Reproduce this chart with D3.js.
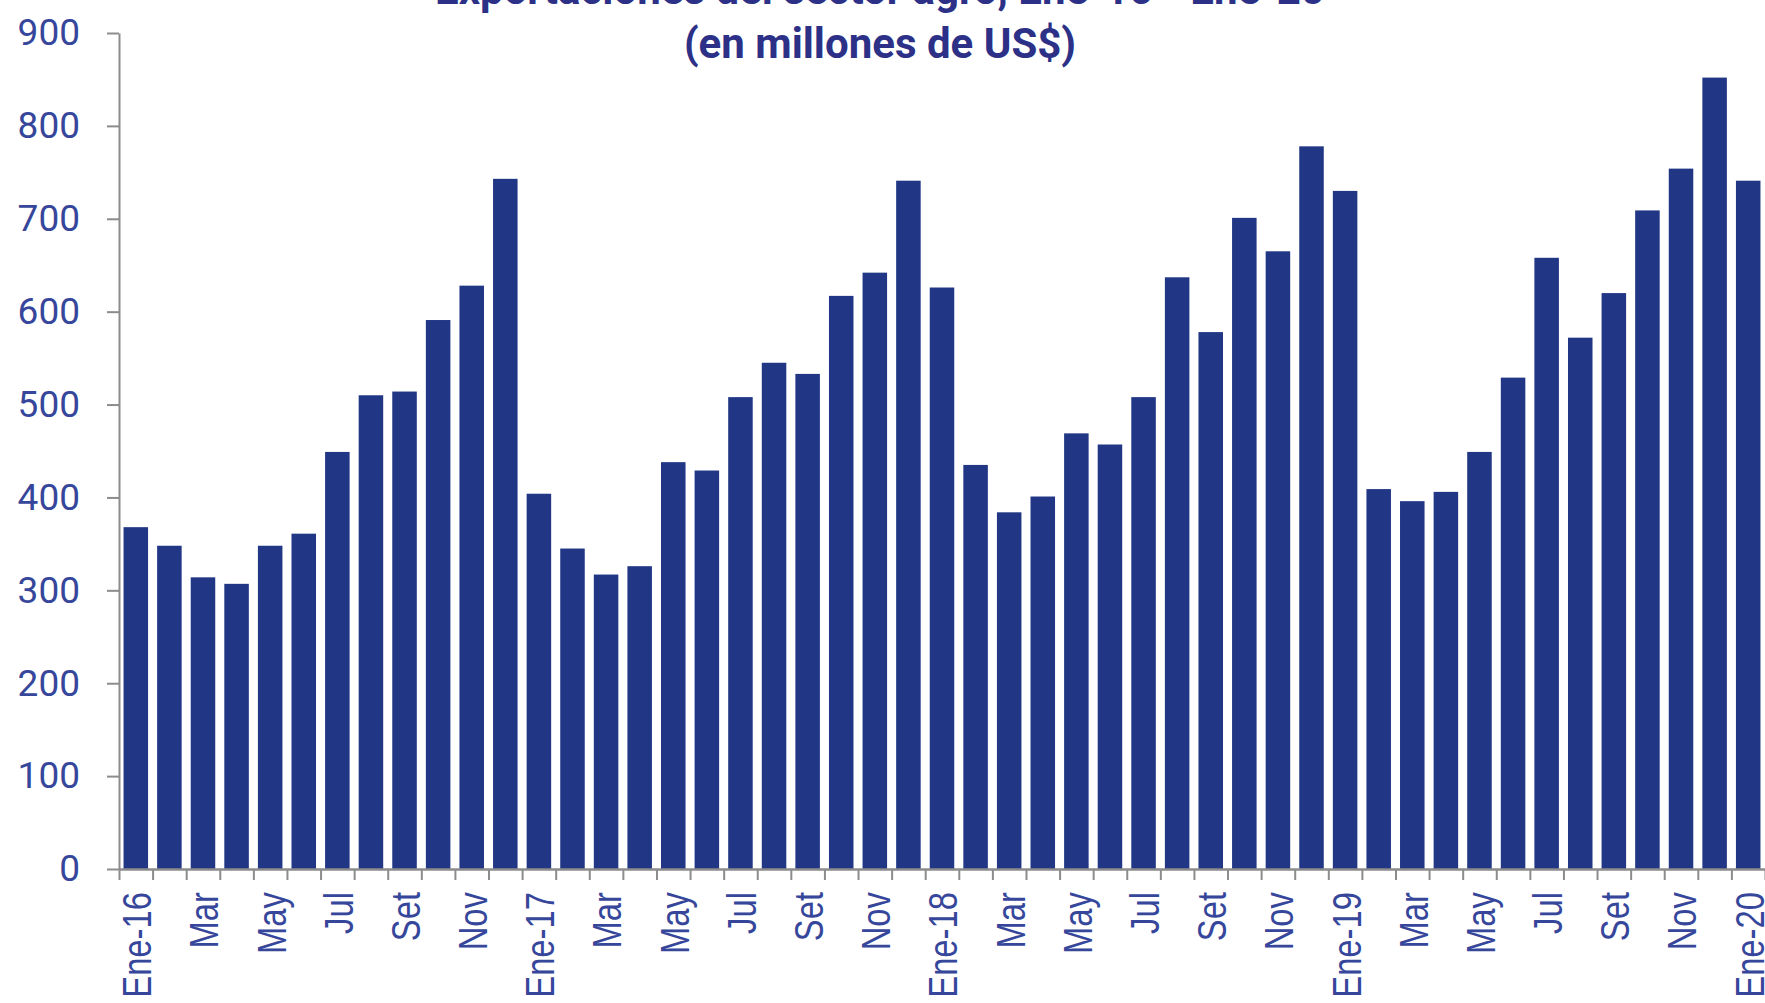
<!DOCTYPE html>
<html>
<head>
<meta charset="utf-8">
<script src="https://cdn.jsdelivr.net/npm/d3@7"></script>
<style>
  html, body { margin: 0; padding: 0; background: #ffffff; }
  svg { display: block; }
</style>
</head>
<body>
<svg id="chart" width="1765" height="1003"></svg>
<script>
// ---- Data ----
const titleLines = ["Exportaciones del sector agro, Ene-16 - Ene-20", "(en millones de US$)"];

const categories = [
  "Ene-16","Feb-16","Mar-16","Abr-16","May-16","Jun-16","Jul-16","Ago-16","Set-16","Oct-16","Nov-16","Dic-16",
  "Ene-17","Feb-17","Mar-17","Abr-17","May-17","Jun-17","Jul-17","Ago-17","Set-17","Oct-17","Nov-17","Dic-17",
  "Ene-18","Feb-18","Mar-18","Abr-18","May-18","Jun-18","Jul-18","Ago-18","Set-18","Oct-18","Nov-18","Dic-18",
  "Ene-19","Feb-19","Mar-19","Abr-19","May-19","Jun-19","Jul-19","Ago-19","Set-19","Oct-19","Nov-19","Dic-19",
  "Ene-20"
];

const tickLabels = [
  "Ene-16","","Mar","","May","","Jul","","Set","","Nov","",
  "Ene-17","","Mar","","May","","Jul","","Set","","Nov","",
  "Ene-18","","Mar","","May","","Jul","","Set","","Nov","",
  "Ene-19","","Mar","","May","","Jul","","Set","","Nov","",
  "Ene-20"
];

const values = [
  368, 348, 314, 307, 348, 361, 449, 510, 514, 591, 628, 743,
  404, 345, 317, 326, 438, 429, 508, 545, 533, 617, 642, 741,
  626, 435, 384, 401, 469, 457, 508, 637, 578, 701, 665, 778,
  730, 409, 396, 406, 449, 529, 658, 572, 620, 709, 754, 852,
  741
];

const yTicks = [0, 100, 200, 300, 400, 500, 600, 700, 800, 900];

// ---- Layout ----
(function () {
  const svg = d3.select("#chart");
  const plotLeft = 119, plotRight = 1765, plotTop = 33, plotBottom = 869;
  const barColor = "#213785";
  const axisColor = "#8c8c8c";
  const labelColor = "#36479b";
  const titleColor = "#2c3187";

  const x = d3.scaleBand().domain(categories).range([plotLeft, plotRight])
    .paddingInner(0.27).paddingOuter(0.135);
  const xBound = d3.scaleLinear().domain([0, categories.length]).range([plotLeft, plotRight]);
  const y = d3.scaleLinear().domain([0, 900]).range([plotBottom, plotTop]);

  svg.append("rect").attr("width", 1765).attr("height", 1003).attr("fill", "#ffffff");

  // Title
  svg.append("g").selectAll("text").data(titleLines).join("text")
    .attr("x", 880)
    .attr("y", (d, i) => i === 0 ? 4 : 58)
    .attr("text-anchor", "middle")
    .attr("font-family", "Roboto, 'Open Sans', sans-serif")
    .attr("font-weight", "bold")
    .attr("font-size", 42)
    .attr("fill", titleColor)
    .text(d => d);

  // Bars
  svg.append("g").selectAll("rect").data(values).join("rect")
    .attr("x", (d, i) => x(categories[i]))
    .attr("width", x.bandwidth())
    .attr("y", d => y(d))
    .attr("height", d => y(0) - y(d))
    .attr("fill", barColor);

  // Y axis
  const yAxis = svg.append("g")
    .attr("transform", `translate(${plotLeft},0)`)
    .call(d3.axisLeft(y).tickValues(yTicks).tickSize(12).tickSizeOuter(0).tickPadding(27));
  yAxis.select(".domain").attr("stroke", axisColor).attr("stroke-width", 2);
  yAxis.selectAll(".tick line").attr("stroke", axisColor).attr("stroke-width", 2);
  yAxis.selectAll(".tick text")
    .attr("font-family", "Roboto, sans-serif")
    .attr("font-size", 37)
    .attr("fill", labelColor);

  // X axis: boundary ticks
  const xTickAxis = svg.append("g")
    .attr("transform", `translate(0,${plotBottom})`)
    .call(d3.axisBottom(xBound).tickValues(d3.range(0, categories.length + 1))
      .tickSize(11).tickSizeOuter(0).tickFormat(""));
  xTickAxis.select(".domain").attr("stroke", axisColor).attr("stroke-width", 2.5);
  xTickAxis.selectAll(".tick line").attr("stroke", axisColor).attr("stroke-width", 2);

  // X axis: labels
  const xLabelAxis = svg.append("g")
    .attr("transform", `translate(0,${plotBottom})`)
    .call(d3.axisBottom(x).tickSize(0).tickSizeOuter(0)
      .tickFormat((d, i) => tickLabels[i]));
  xLabelAxis.select(".domain").remove();
  xLabelAxis.selectAll(".tick text")
    .attr("font-family", "'Liberation Sans', Arial, sans-serif")
    .attr("font-size", 40)
    .attr("fill", labelColor)
    .attr("text-anchor", "end")
    .attr("x", 0)
    .attr("y", 0)
    .attr("dy", "0.36em")
    .attr("transform", "translate(1,23) rotate(-90) scale(0.82,1)");
})();
</script>
</body>
</html>
